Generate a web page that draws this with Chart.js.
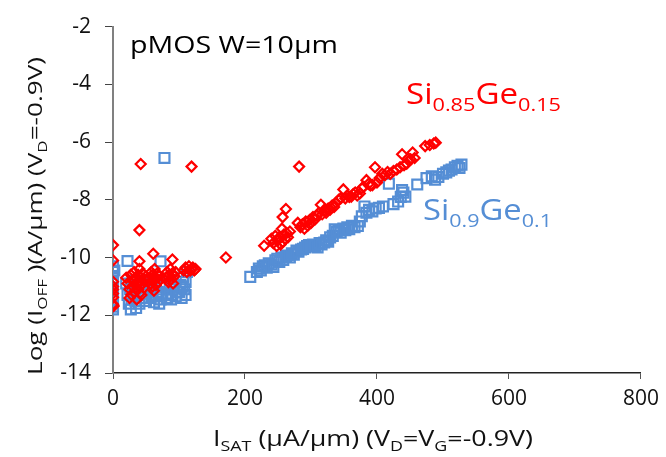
<!DOCTYPE html>
<html><head><meta charset="utf-8">
<script src="https://cdn.jsdelivr.net/npm/chart.js@4/dist/chart.umd.min.js"></script>
<style>html,body{margin:0;padding:0;background:#fff}#wrap{width:666px;height:457px;position:relative}</style>
</head><body><div id="wrap"><canvas id="c"></canvas></div>
<script>
// Si0.85Ge0.15 (red diamonds)
const redIsat = [0,0,0,0,0,0,0,0,1,
 20,22,25,27,28,30,30,32,33,35,35,36,38,38,40,40,40,41,42,43,45,45,47,48,50,25,40,40,42,
 55,57,58,60,60,62,63,65,65,67,68,70,72,62,61,
 80,82,84,85,87,88,90,91,93,95,90,
 107,110,112,115,117,119,121,123,125,119,171,
 229,240,243,246,248,250,252,254,256,257,259,261,263,265,268,262,257,282,
 280,284,287,290,292,295,298,300,303,306,309,312,315,317,320,323,326,329,332,335,338,342,345,349,352,355,358,361,364,367,370,374,377,380,384,387,390,393,397,400,404,408,412,416,420,425,430,435,438,441,445,448,451,454,457,473,480,486,489];
const redLogIoff = [-9.57,-10.1,-10.84,-11.0,-11.11,-11.25,-11.38,-11.62,-11.68,
 -10.7,-10.9,-11.1,-10.6,-11.29,-10.8,-11.0,-10.5,-11.2,-10.7,-10.9,-11.45,-10.6,-11.1,-10.8,-10.4,-11.0,-11.23,-10.7,-11.3,-10.9,-10.55,-11.05,-10.75,-10.65,-11.4,-10.13,-9.05,-6.76,
 -10.7,-10.9,-10.5,-11.0,-10.6,-10.8,-10.4,-10.7,-10.95,-10.55,-10.85,-10.65,-10.75,-11.15,-9.87,
 -10.7,-10.5,-10.85,-10.6,-10.4,-10.75,-10.55,-10.9,-10.65,-10.5,-10.07,
 -10.45,-10.35,-10.5,-10.3,-10.45,-10.4,-10.35,-10.45,-10.4,-6.85,-10.0,
 -9.59,-9.35,-9.5,-9.25,-9.6,-9.4,-9.3,-9.55,-9.0,-9.45,-9.2,-9.35,-9.15,-9.3,-9.1,-8.32,-8.6,-6.85,
 -8.8,-8.95,-8.85,-9.0,-8.75,-8.9,-8.7,-8.8,-8.6,-8.68,-8.55,-8.45,-8.17,-8.5,-8.35,-8.45,-8.3,-8.34,-8.2,-8.25,-8.1,-8.0,-7.95,-7.64,-7.95,-7.85,-7.9,-7.89,-7.8,-7.75,-7.85,-7.78,-7.6,-7.55,-7.32,-7.45,-7.5,-7.49,-6.87,-7.4,-7.25,-7.1,-7.15,-7.04,-7.1,-7.0,-6.95,-6.87,-6.42,-6.8,-6.75,-6.64,-6.6,-6.36,-6.55,-6.14,-6.1,-6.05,-6.02];

// Si0.9Ge0.1 (blue squares)
const blueIsat = [0,0,0,0,0,0,0,0,0,2,
 22,20,22,24,26,28,30,32,34,35,37,38,40,42,44,46,48,50,30,27,
 55,57,60,62,64,66,68,70,72,72,74,75,78,
 80,82,84,86,88,90,92,95,97,
 100,102,104,106,108,110,110,112,105,
 208,218,221,224,227,230,233,236,240,243,246,249,252,255,258,262,265,268,271,274,278,281,285,288,291,294,297,300,303,306,310,313,316,320,323,326,329,333,336,339,342,345,349,352,355,358,362,366,371,374,377,381,384,388,393,398,403,409,418,425,432,436,438,440,443,461,475,483,488,493,500,505,509,513,518,522,525,528];
const blueLogIoff = [-10.3,-10.5,-10.7,-10.9,-11.1,-11.3,-11.5,-11.7,-11.8,-10.45,
 -10.12,-10.9,-11.3,-11.6,-11.1,-11.45,-10.8,-11.2,-11.5,-11.75,-11.0,-11.3,-11.6,-11.15,-11.4,-10.9,-11.25,-11.5,-11.0,-11.8,
 -11.4,-11.1,-11.3,-11.55,-11.0,-11.35,-11.2,-11.6,-11.45,-10.13,-11.3,-10.9,-6.55,
 -11.0,-11.4,-11.25,-11.1,-11.45,-11.3,-11.0,-11.35,-11.2,
 -11.2,-10.95,-11.4,-10.7,-11.1,-11.3,-10.85,-10.5,-11.0,
 -10.67,-10.5,-10.38,-10.45,-10.3,-10.27,-10.35,-10.2,-10.25,-10.33,-10.1,-10.04,-10.15,-10.0,-10.08,-9.95,-9.93,-10.0,-9.85,-9.9,-9.76,-9.8,-9.72,-9.7,-9.65,-9.6,-9.57,-9.62,-9.55,-9.6,-9.65,-9.5,-9.55,-9.48,-9.4,-9.45,-9.3,-9.25,-9.02,-9.1,-9.05,-9.14,-9.0,-9.05,-8.95,-9.02,-8.9,-8.95,-8.91,-8.75,-8.57,-8.23,-8.45,-8.35,-8.4,-8.3,-8.28,-8.23,-7.44,-8.15,-8.06,-7.9,-7.66,-7.75,-7.89,-7.47,-7.25,-7.19,-7.3,-7.21,-7.1,-7.05,-6.99,-6.95,-6.87,-6.82,-6.9,-6.78];

const xTicks = [0,200,400,600,800];
const yTicks = [-14,-12,-10,-8,-6,-4,-2];

const RED = '#FF0000', BLUE = '#558ED5';
const FAMILY = "'Open Sans', 'Noto Sans', sans-serif";

function pts(xs, ys){ return xs.map((x,i)=>({x:x, y:ys[i]})); }

function drawRich(ctx, segs, o){
  const main = o.size + 'px ' + FAMILY, sub = o.subSize + 'px ' + FAMILY;
  let total = 0;
  const widths = segs.map(s => { ctx.font = s.sub ? sub : main; const w = ctx.measureText(s.t).width; total += w; return w; });
  const sx = o.width ? o.width/total : 1;
  ctx.save();
  ctx.translate(o.x, o.y);
  if (o.rotate) ctx.rotate(o.rotate);
  ctx.scale(sx, 1);
  ctx.fillStyle = o.color;
  ctx.textBaseline = 'alphabetic';
  ctx.textAlign = 'left';
  let cx = o.align === 'center' ? -total/2 : 0;
  segs.forEach((s,i) => {
    ctx.font = s.sub ? sub : main;
    ctx.fillText(s.t, cx, s.sub ? o.subDy : 0);
    cx += widths[i];
  });
  ctx.restore();
}

const textPlugin = {
  id: 'texts',
  afterDraw(chart){
    const ctx = chart.ctx;
    drawRich(ctx, [{t:'pMOS W=10μm'}], {x:130, y:53, size:23, subSize:15, subDy:0, color:'#000', width:208});
    drawRich(ctx, [{t:'Si'},{t:'0.85',sub:1},{t:'Ge'},{t:'0.15',sub:1}], {x:406, y:104, size:29, subSize:19, subDy:7, color:RED, width:155});
    drawRich(ctx, [{t:'Si'},{t:'0.9',sub:1},{t:'Ge'},{t:'0.1',sub:1}], {x:423, y:220, size:29, subSize:19, subDy:7, color:BLUE, width:129});
    drawRich(ctx, [{t:'I'},{t:'SAT',sub:1},{t:' (μA/μm) (V'},{t:'D',sub:1},{t:'=V'},{t:'G',sub:1},{t:'=-0.9V)'}], {x:213, y:446, size:21, subSize:14, subDy:5, color:'#111', width:320});
    drawRich(ctx, [{t:'Log (I'},{t:'OFF',sub:1},{t:' )(A/μm) (V'},{t:'D',sub:1},{t:'=-0.9V)'}], {x:42, y:375, size:20, subSize:13, subDy:5, color:'#111', width:318, rotate:-Math.PI/2});
  }
};

new Chart(document.getElementById('c'), {
  type: 'scatter',
  data: {
    datasets: [
      { label:'Si0.85Ge0.15', data: pts(redIsat, redLogIoff), pointStyle:'rectRot', pointRadius:5, pointBorderWidth:2.2, borderColor:RED, backgroundColor:'rgba(0,0,0,0)', pointHoverRadius:5 },
      { label:'Si0.9Ge0.1', data: pts(blueIsat, blueLogIoff), pointStyle:'rect', pointRadius:7, pointBorderWidth:2.2, borderColor:BLUE, backgroundColor:'rgba(0,0,0,0)', pointHoverRadius:7 }
    ]
  },
  options: {
    responsive: true, maintainAspectRatio: false, animation: false,
    events: [],
    layout: { padding: { left: 0, top: 20, right: 21, bottom: 0 } },
    plugins: { legend: { display:false }, tooltip: { enabled:false } },
    scales: {
      x: {
        type:'linear', min:0, max:800,
        afterBuildTicks(s){ s.ticks = xTicks.map(v=>({value:v})); },
        afterFit(s){ s.height = 84; },
        ticks: { font:{ family:FAMILY, size:21 }, color:'#111', padding:7 },
        grid: { drawOnChartArea:false, drawTicks:true, tickLength:6, color:'#555', lineWidth:1 },
        border: { display:true, color:'#222', width:1.5 }
      },
      y: {
        type:'linear', min:-14, max:-2,
        afterBuildTicks(s){ s.ticks = yTicks.map(v=>({value:v})); },
        afterFit(s){ s.width = 113; },
        ticks: { font:{ family:FAMILY, size:21 }, color:'#111', padding:14 },
        grid: { drawOnChartArea:false, drawTicks:true, tickLength:8, color:'#444', lineWidth:1 },
        border: { display:true, color:'#808080', width:2 }
      }
    }
  },
  plugins: [textPlugin]
});
</script>
</body></html>
